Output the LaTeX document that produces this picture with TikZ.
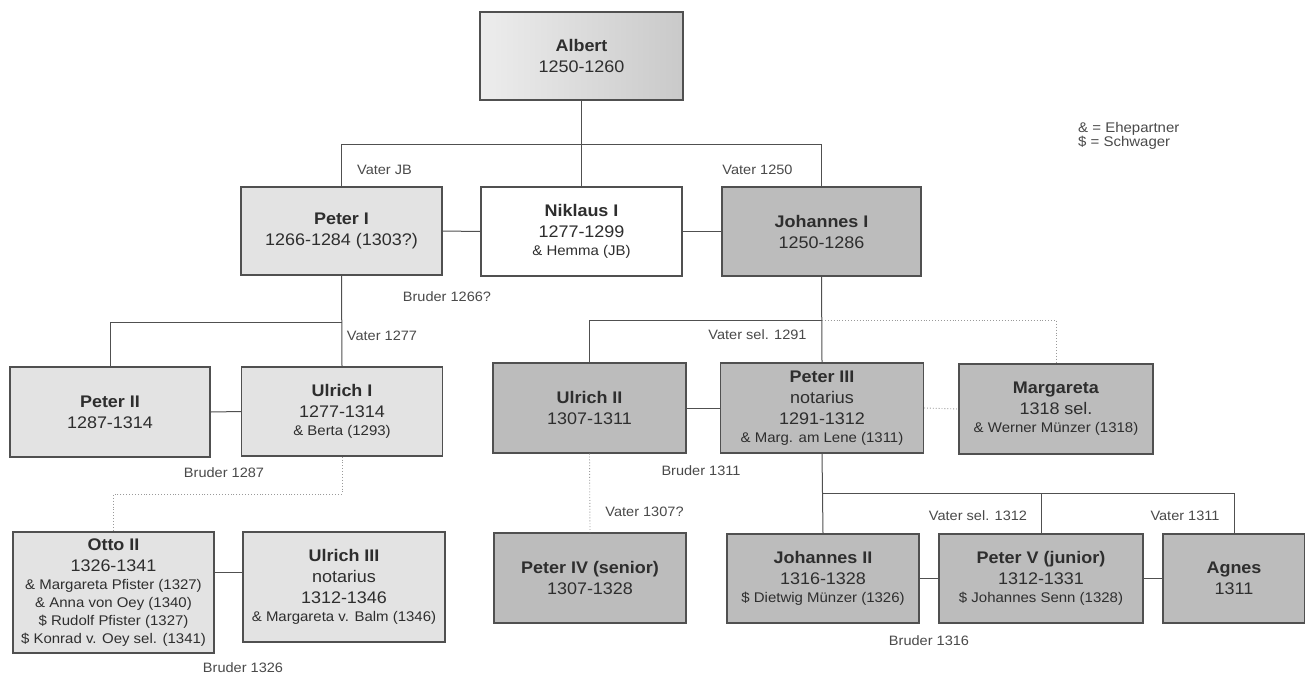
\documentclass[tikz,border=0pt]{standalone}
\usepackage{fontspec}
\setmainfont{Liberation Sans}[FakeStretch=1.07]
\definecolor{lightfill}{HTML}{E3E3E3}
\definecolor{darkfill}{HTML}{BCBCBC}
\definecolor{bordercol}{HTML}{505050}
\definecolor{textcol}{HTML}{2E2E2E}
\definecolor{labcol}{HTML}{4A4A4A}
\definecolor{dotcol}{HTML}{9A9A9A}
\newcommand\nmf{\fontsize{16.8}{21}\selectfont}
\newcommand\sml{\fontsize{14}{17.5}\selectfont}
\newcommand\labf{\fontsize{13.6}{17}\selectfont}
\tikzset{
  pbox/.style={draw=bordercol, line width=1.3pt, inner sep=0pt, align=center, text=textcol, font=\nmf},
  lbox/.style={pbox, fill=lightfill},
  dbox/.style={pbox, fill=darkfill},
  wbox/.style={pbox, fill=white},
  lab/.style={font=\labf, text=labcol, inner sep=0pt},
  conn/.style={draw=bordercol, line width=1pt},
  dconn/.style={draw=dotcol, line width=0.9pt, dotted}
}
\begin{document}
\begin{tikzpicture}[x=1pt,y=-1pt]
\useasboundingbox (0,0) rectangle (1305,675);
\fill[white] (0,0) rectangle (1305,675);

% row 1
\node[pbox, left color=gray!14, right color=gray!42, minimum width=203pt, minimum height=88pt] (Albert) at (581.5,56) {\textbf{Albert}\\1250-1260};

% row 2
\node[lbox, minimum width=201pt, minimum height=88pt] (PeterI) at (341.5,231) {\textbf{Peter I}\\1266-1284 (1303?)};
\node[wbox, minimum width=201pt, minimum height=89pt] (NiklausI) at (581.5,231.5) {\textbf{Niklaus I}\\1277-1299\\[-3pt]{\sml \& Hemma (JB)}};
\node[dbox, minimum width=199pt, minimum height=89pt] (JohannesI) at (821.5,231.5) {\textbf{Johannes I}\\1250-1286};

% row 3
\node[lbox, minimum width=200pt, minimum height=90pt] (PeterII) at (110,412) {\textbf{Peter II}\\1287-1314};
\node[lbox, minimum width=201pt, minimum height=89pt] (UlrichI) at (342,411.5) {\textbf{Ulrich I}\\1277-1314\\[-3pt]{\sml \& Berta (1293)}};
\node[dbox, minimum width=193pt, minimum height=90pt] (UlrichII) at (589.5,408) {\textbf{Ulrich II}\\1307-1311};
\node[dbox, minimum width=203pt, minimum height=90pt] (PeterIII) at (822,408) {\textbf{Peter III}\\notarius\\1291-1312\\[-3pt]{\sml \& Marg. am Lene (1311)}};
\node[dbox, minimum width=194pt, minimum height=90pt] (Margareta) at (1056,409) {\textbf{Margareta}\\1318 sel.\\[-3pt]{\sml \& Werner Münzer (1318)}};

% row 4
\node[lbox, minimum width=201pt, minimum height=121pt] (OttoII) at (113.5,592.5) {\textbf{Otto II}\\1326-1341\\[-2.5pt]{\sml \& Margareta Pfister (1327)}\\[-3pt]{\sml \& Anna von Oey (1340)}\\[-3pt]{\sml \$ Rudolf Pfister (1327)}\\[-3pt]{\sml \$ Konrad v. Oey sel. (1341)}};
\node[lbox, minimum width=202pt, minimum height=110pt] (UlrichIII) at (344,587) {\textbf{Ulrich III}\\notarius\\1312-1346\\[-3pt]{\sml \& Margareta v. Balm (1346)}};
\node[dbox, minimum width=192pt, minimum height=90pt] (PeterIV) at (590,578) {\textbf{Peter IV (senior)}\\1307-1328};
\node[dbox, minimum width=192pt, minimum height=89pt] (JohannesII) at (823,578.5) {\textbf{Johannes II}\\1316-1328\\[-3pt]{\sml \$ Dietwig Münzer (1326)}};
\node[dbox, minimum width=204pt, minimum height=89pt] (PeterV) at (1041,578.5) {\textbf{Peter V (junior)}\\1312-1331\\[-3pt]{\sml \$ Johannes Senn (1328)}};
\node[dbox, minimum width=142pt, minimum height=89pt] (Agnes) at (1234,578.5) {\textbf{Agnes}\\1311};

% bus coordinates
\coordinate (bA) at (0,144);
\coordinate (bP) at (0,322);
\coordinate (bU) at (0,494);
\coordinate (bJ) at (0,320);
\coordinate (bT) at (0,493);

% connectors row 1-2
\draw[conn] (Albert.south) -- (NiklausI.north);
\draw[conn] (PeterI.north) -- (PeterI.north |- bA) -- (JohannesI.north |- bA) -- (JohannesI.north);
\draw[conn] (PeterI.east) -- (NiklausI.west);
\draw[conn] (NiklausI.east) -- (JohannesI.west);

% Peter I branch
\draw[conn] (PeterI.south) -- (UlrichI.north);
\draw[conn] (PeterII.north) -- (PeterII.north |- bP) -- (UlrichI.north |- bP);
\draw[conn] (PeterII.east) -- (UlrichI.west);
\draw[dconn] (UlrichI.south) -- (UlrichI.south |- bU) -- (OttoII.north |- bU) -- (OttoII.north);
\draw[conn] (OttoII.east |- 0,572) -- (UlrichIII.west |- 0,572);

% Johannes I branch
\draw[conn] (JohannesI.south) -- (PeterIII.north);
\draw[conn] (UlrichII.north) -- (UlrichII.north |- bJ) -- (PeterIII.north |- bJ);
\draw[dconn] (PeterIII.north |- bJ) -- (Margareta.north |- bJ) -- (Margareta.north);
\draw[conn] (UlrichII.east) -- (PeterIII.west);
\draw[dconn] (PeterIII.east) -- (Margareta.west);
\draw[dconn] (UlrichII.south) -- (PeterIV.north);
\draw[conn] (PeterIII.south) -- (JohannesII.north);
\draw[conn] (JohannesII.north |- bT) -- (Agnes.north |- bT) -- (Agnes.north);
\draw[conn] (PeterV.north |- bT) -- (PeterV.north);
\draw[conn] (JohannesII.east) -- (PeterV.west);
\draw[conn] (PeterV.east) -- (Agnes.west);

% labels
\node[lab] (l1) at (384.5,170) {Vater JB};
\node[lab] (l2) at (757.5,170) {Vater 1250};
\node[lab] (l3) at (447,297) {Bruder 1266?};
\node[lab] (l4) at (382,336) {Vater 1277};
\node[lab] (l5) at (224,473) {Bruder 1287};
\node[lab] (l6) at (243,668) {Bruder 1326};
\node[lab] (l7) at (757.5,335) {Vater sel. 1291};
\node[lab] (l8) at (701,471) {Bruder 1311};
\node[lab] (l9) at (644.5,512) {Vater 1307?};
\node[lab] (l10) at (978,516) {Vater sel. 1312};
\node[lab] (l11) at (1185,516) {Vater 1311};
\node[lab] (l12) at (929,641) {Bruder 1316};
\node[lab, font=\fontsize{14}{14}\selectfont, align=left, anchor=west] (legend) at (1078,135.5) {\& = Ehepartner\\\$ = Schwager};
\end{tikzpicture}
\end{document}
